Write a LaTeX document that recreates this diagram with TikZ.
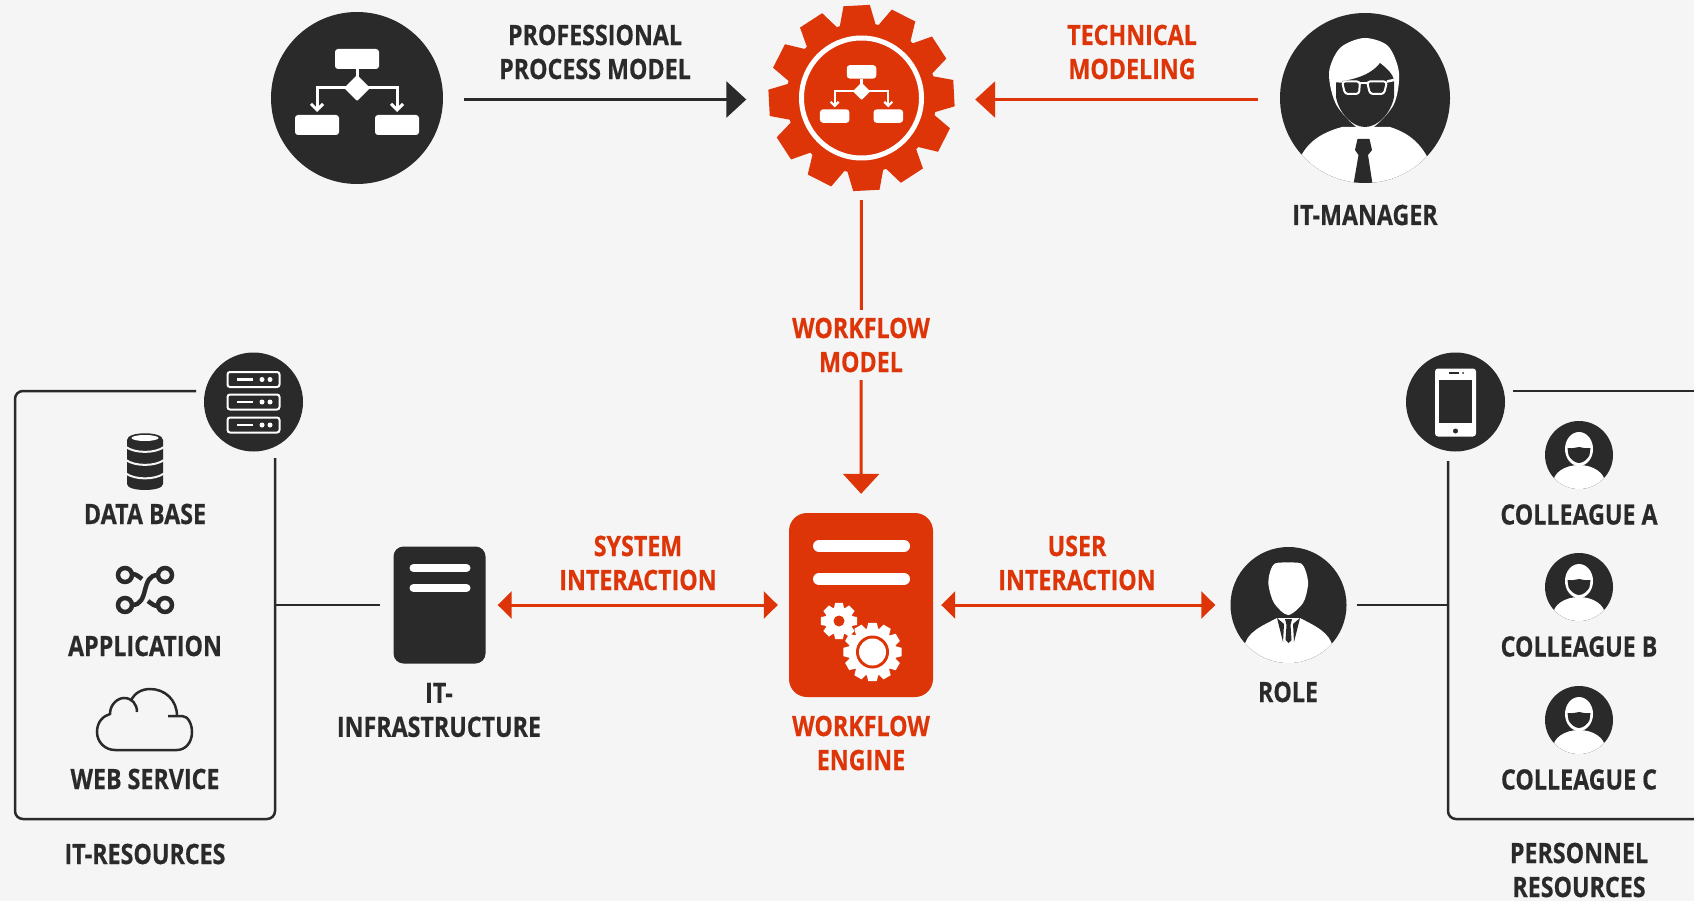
\documentclass[tikz,border=0pt]{standalone}
\usepackage{xcolor}
\usepackage{fontspec}
\setmainfont[FakeStretch=0.83, FakeBold=0.5]{Open Sans}
\usetikzlibrary{positioning, arrows.meta}

\definecolor{page_bg}{HTML}{F5F5F5}
\definecolor{ink}{HTML}{2A2A2A}
\definecolor{signal}{HTML}{DD3408}

% gear: centre, teeth, root radius, tip radius, fill options
\newcommand{\drawgear}[5]{%
    \pgfmathsetmacro{\gstep}{360/#2}
    \pgfmathsetmacro{\groot}{.46*\gstep}
    \pgfmathsetmacro{\gtip}{.27*\gstep}
    \fill[shift={(#1)}, #5] ({-\groot}:#3)
        \foreach \i in {1,...,#2} {
            -- ({(\i-1)*\gstep-\groot}:#3) -- ({(\i-1)*\gstep-\gtip}:#4)
            -- ({(\i-1)*\gstep+\gtip}:#4) -- ({(\i-1)*\gstep+\groot}:#3)
        } -- cycle;
}
% process chart icon: centre, scale, line width
\newcommand{\flowicon}[3]{%
    \begin{scope}[shift={(#1)}, scale=#2]
        \fill[white, rounded corners=3pt] (-22,-49) rectangle (22,-29);
        \fill[white, rounded corners=3pt] (-62,17) rectangle (-18,37);
        \fill[white, rounded corners=3pt] (18,17) rectangle (62,37);
        \fill[white, rounded corners=1pt] (0,-23) -- (13,-10) -- (0,3) -- (-13,-10) -- cycle;
        \draw[white, line width=#3] (0,-29) -- (0,-10);
        \draw[white, line width=#3, -{Straight Barb[length=6pt, width=12pt, scale=#2]}] (0,-10) -- (-40,-10) -- (-40,14);
        \draw[white, line width=#3, -{Straight Barb[length=6pt, width=12pt, scale=#2]}] (0,-10) -- (40,-10) -- (40,14);
    \end{scope}
}

\begin{document}
\begin{tikzpicture}[
    x=1pt, y=-1pt,
    % --- STYLES ---
    label_text/.style={
        font=\fontsize{28}{34}\selectfont\bfseries,
        text=ink, align=center, inner sep=0pt
    },
    signal_text/.style={label_text, text=signal},
    icon_disc/.style={circle, fill=ink, inner sep=0pt, minimum size=#1},
    white_bar/.style={white, line width=#1, line cap=round},
    rule_line/.style={ink, line width=2.5pt},
    dark_arrow/.style={ink, line width=3pt, -{Triangle[length=20pt, width=36pt]}},
    signal_arrow/.style={signal, line width=3pt, -{Triangle[length=20pt, width=36pt]}},
    both_arrow/.style={signal, line width=3pt, {Triangle[length=14pt, width=27pt]}-{Triangle[length=14pt, width=27pt]}}
]

\path[use as bounding box, fill=page_bg] (0,0) rectangle (1694,901);

% --- TOP ROW ---
\node[icon_disc=172pt] (process) at (357,98) {};
\flowicon{357,98}{1}{3pt}

\node[circle, inner sep=0pt, minimum size=188pt] (model_gear) at (861.5,98) {};
\drawgear{861.5,98}{12}{75}{93.5}{signal, rotate=3}
\draw[white, line width=5pt] (model_gear.center) circle [radius=60];
\flowicon{861.5,98}{0.67}{2.2pt}

\node[icon_disc=170pt] (manager) at (1365,98) {};
\begin{scope}
    \clip (manager.center) circle [radius=85];
    % shoulders and head
    \fill[white] (1298,162) .. controls (1305,146) and (1316,134) .. (1342,127) -- (1390,127) .. controls (1412,134) and (1422,146) .. (1430,162) -- (1430,190) -- (1298,190) -- cycle;
    \fill[white] plot [smooth cycle] coordinates {(1364,38) (1388,46) (1399,73) (1393,106) (1365,131) (1337,106) (1329,73) (1340,48)};
    \fill[ink] (1336,82) .. controls (1352,80) and (1370,76) .. (1380,63) .. controls (1386,68) and (1394,74) .. (1394,82) -- (1394,97) .. controls (1391,113) and (1378,127) .. (1365,127) .. controls (1352,127) and (1339,113) .. (1336,97) -- cycle;
    % glasses
    \draw[white, line width=2pt, rounded corners=3pt] (1342,81.5) -- (1360,81.5) -- (1359,94) -- (1345,94) -- cycle;
    \draw[white, line width=2pt, rounded corners=3pt] (1367,81.5) -- (1387,81.5) -- (1384,94) -- (1370,94) -- cycle;
    \draw[white, line width=2pt] (1360,83.5) -- (1367,83.5);
    \draw[white, line width=2.5pt] (1336,81) -- (1342,81.5);
    \draw[white, line width=2.5pt] (1387,81.5) -- (1394,80);
    % tie
    \fill[ink] (1357.5,139) -- (1369.5,139) -- (1372,150) -- (1368,155) -- (1372.5,184) -- (1353.5,184) -- (1358.5,155) -- (1355,150) -- cycle;
\end{scope}

\node[label_text] (process_label) at (595,52) {PROFESSIONAL\\PROCESS MODEL};
\node[signal_text] (modeling_label) at (1132,52) {TECHNICAL\\MODELING};
\node[label_text] (manager_label) at (1365,215) {IT-MANAGER};

% --- MIDDLE ROW ---
\node[fill=signal, rounded corners=18pt, inner sep=0pt, minimum width=144pt, minimum height=184pt] (engine) at (861,605) {};
\draw[white_bar=12pt] (819,546) -- (904,546);
\draw[white_bar=12pt] (819,579) -- (904,579);
\drawgear{839,621}{8}{14}{18.5}{white}
\fill[signal] (839,621) circle [radius=5.5];
\fill[signal] (872.5,652) circle [radius=27];
\drawgear{872.5,652}{12}{24}{29.5}{white}
\fill[signal] (872.5,652) circle [radius=16.5];
\fill[white] (872.5,652) circle [radius=13.5];

\node[fill=ink, rounded corners=10pt, inner sep=0pt, minimum width=92pt, minimum height=117pt] (infra) at (439.5,605) {};
\draw[white_bar=8pt] (413.5,568) -- (466.5,568);
\draw[white_bar=8pt] (413.5,588) -- (466.5,588);

\node[icon_disc=116pt] (role) at (1288.5,605) {};
\begin{scope}
    \clip (role.center) circle [radius=58];
    \fill[white] (1244,648) .. controls (1246,632) and (1262,626) .. (1277,618) -- (1300,618) .. controls (1315,626) and (1330,632) .. (1333,648) -- (1337,670) -- (1240,670) -- cycle;
    \fill[white] plot [smooth cycle] coordinates {(1288,562.5) (1301,563.5) (1306,572) (1308,585) (1303,603) (1288,615) (1274,603) (1268.5,585) (1270,572) (1275,563.5)};
    % lapels and tie
    \fill[ink] (1277,618) -- (1283,642) -- (1284,624) -- cycle;
    \fill[ink] (1300,618) -- (1294,642) -- (1293,624) -- cycle;
    \fill[ink] (1285,619) -- (1292,619) -- (1290.5,625) -- (1291.5,640) -- (1288.5,643) -- (1285.5,640) -- (1286.5,625) -- cycle;
\end{scope}

\node[label_text] (infra_label) at (439,710) {IT-\\INFRASTRUCTURE};
\node[signal_text] (engine_label) at (861,743) {WORKFLOW\\ENGINE};
\node[label_text] (role_label) at (1288,692) {ROLE};
\node[signal_text] (system_label) at (638,563) {SYSTEM\\INTERACTION};
\node[signal_text] (user_label) at (1077,563) {USER\\INTERACTION};

% --- LEFT BLOCK ---
\draw[rule_line, rounded corners=8pt] (196,391) -- (15,391) -- (15,819) -- (275,819) -- (275,458);
\coordinate (left_joint) at (275,605);

\node[icon_disc=99pt] (servers) at (253.5,402) {};
\foreach \ypos in {379.5,402,425} {
    \draw[white, line width=2pt, rounded corners=2.5pt] (227.5,\ypos-7.5) rectangle (279.5,\ypos+7.5);
    \draw[white, line width=2.5pt] (237,\ypos) -- (253,\ypos);
    \fill[white] (262,\ypos) circle [radius=2.5];
    \fill[white] (270,\ypos) circle [radius=2.5];
}

% data base icon
\fill[ink] (127,440) -- (127,484) .. controls (127,492) and (163,492) .. (163,484) -- (163,440) .. controls (163,431) and (127,431) .. (127,440) -- cycle;
\fill[white] (145,438) ellipse [x radius=13.5, y radius=3];
\foreach \ypos in {447,460,473.5} {
    \draw[page_bg, line width=2pt] (126,\ypos) .. controls (135,\ypos+6.5) and (155,\ypos+6.5) .. (164,\ypos);
}
% application icon
\foreach \xpos/\ypos in {125/575,165/575,125/605,165/605} {
    \draw[ink, line width=4.5pt] (\xpos,\ypos) circle [radius=7];
}
\draw[ink, line width=4.5pt] (132,605) .. controls (150,605) and (140,575) .. (158,575);
\draw[ink, line width=4.5pt] (132,574) .. controls (136,574) and (138,576) .. (142,579);
\draw[ink, line width=4.5pt] (158,606) .. controls (154,606) and (152,604) .. (148,601);
% web service icon
\draw[ink, line width=2.5pt] (168,716) -- (182,716) .. controls (188,716) and (192,724) .. (192,732) .. controls (192,743) and (185,750) .. (177,750) -- (115,750) .. controls (105,750) and (97,742) .. (97,732) .. controls (97,722) and (103,716) .. (110,714) .. controls (110,704) and (118,698) .. (124,698) .. controls (132,698) and (137,704) .. (137,712);
\draw[ink, line width=2.5pt] (131,701) .. controls (134,693) and (142,689) .. (150,689) .. controls (165,689) and (177,700) .. (177,716);

\node[label_text] (database_label) at (145,514) {DATA BASE};
\node[label_text] (application_label) at (145,646) {APPLICATION};
\node[label_text] (webservice_label) at (145,779) {WEB SERVICE};
\node[label_text] (itres_label) at (145,854) {IT-RESOURCES};

% --- RIGHT BLOCK ---
\draw[rule_line, rounded corners=8pt] (1448,461) -- (1448,819) -- (1700,819);
\draw[rule_line] (1513,391) -- (1700,391);
\coordinate (right_joint) at (1448,605);

\node[icon_disc=99pt] (phone) at (1455.5,402) {};
\fill[white, rounded corners=3pt] (1435,368.5) rectangle (1476,436.5);
\fill[ink] (1439,380) rectangle (1472,423);
\draw[ink, line width=1.5pt] (1449,373) -- (1459,373);
\fill[ink] (1463,373) circle [radius=1];
\fill[ink] (1455.5,431) circle [radius=2.5];

\foreach \who/\ypos/\tag in {a/455/A,b/587/B,c/720/C} {
    \node[icon_disc=68pt] (colleague_\who) at (1579,\ypos) {};
    \begin{scope}[shift={(1579,\ypos)}]
        \clip (0,0) circle [radius=34];
        \fill[white] (0,28) ellipse [x radius=26, y radius=18];
        \fill[white] (0,-6) ellipse [x radius=14, y radius=17];
        \fill[ink] (-11.5,-7) .. controls (-5,-6) and (-3,-8) .. (0,-8) .. controls (3,-8) and (5,-6) .. (11.5,-7) -- (10.5,0) .. controls (9,4) and (4,8) .. (0,8) .. controls (-4,8) and (-9,4) .. (-10.5,0) -- cycle;
    \end{scope}
    \node[label_text] (colleague_\who_label) at (1579,\ypos+59.5) {COLLEAGUE \tag};
}
\node[label_text] (personnel_label) at (1579,870) {PERSONNEL\\RESOURCES};

% --- ARROWS ---
\draw[dark_arrow, shorten <=21pt, shorten >=21pt] ([yshift=-1.5pt]process.east) -- ([yshift=-1.5pt]model_gear.west);
\draw[signal_arrow, shorten <=22pt, shorten >=19.5pt] ([yshift=-1.5pt]manager.west) -- ([yshift=-1.5pt]model_gear.east);
\draw[signal_arrow, shorten <=8pt, shorten >=19pt] (model_gear) -- (engine);
\node[signal_text, fill=page_bg, minimum width=150pt, minimum height=70pt] (workflow_label) at (861,345) {WORKFLOW\\MODEL};
\draw[both_arrow, shorten <=12pt, shorten >=11pt] (infra) -- (engine);
\draw[both_arrow, shorten <=8pt, shorten >=15pt] (engine) -- (role);
\draw[rule_line, shorten >=13pt] (left_joint) -- (infra);
\draw[rule_line, shorten <=10pt] (role) -- (right_joint);

\end{tikzpicture}
\end{document}
